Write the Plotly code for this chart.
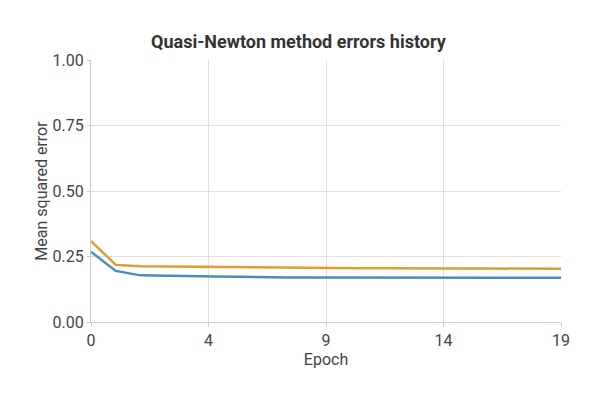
import plotly.graph_objects as go

epochs = list(range(20))
err_a = [0.309, 0.218, 0.213, 0.212, 0.211, 0.209, 0.209, 0.208, 0.208, 0.206,
         0.205, 0.205, 0.205, 0.204, 0.204, 0.204, 0.204, 0.204, 0.203, 0.203]
err_b = [0.268, 0.195, 0.178, 0.176, 0.174, 0.174, 0.173, 0.171, 0.170, 0.170,
         0.170, 0.170, 0.169, 0.169, 0.169, 0.169, 0.169, 0.169, 0.169, 0.169]
x_tickvals = [0, 4.75, 9.5, 14.25, 19]
x_ticktext = ["0", "4", "9", "14", "19"]
y_tickvals = [0, 0.25, 0.5, 0.75, 1.0]

fig = go.Figure()
fig.add_trace(go.Scatter(x=epochs, y=err_a, mode="lines",
                         line=dict(color="#E39B30", width=2.5), showlegend=False))
fig.add_trace(go.Scatter(x=epochs, y=err_b, mode="lines",
                         line=dict(color="#4A8EB6", width=2.5), showlegend=False))

fig.update_layout(
    width=600, height=400,
    paper_bgcolor="white", plot_bgcolor="white",
    margin=dict(l=83, r=47, t=52, b=86, autoexpand=False),
    title=dict(text="<b>Quasi-Newton method errors history</b>",
               x=0.484, xanchor="center", y=1 - 34 / 400, yanchor="middle",
               font=dict(family="Roboto", size=18, color="#333333")),
    font=dict(family="Roboto", size=16, color="#444444"),
)
fig.update_xaxes(range=[0, 19], tickvals=x_tickvals, ticktext=x_ticktext,
                 showgrid=True, gridcolor="#e0e0e0", zeroline=False,
                 showline=True, linecolor="#cccccc", automargin=False,
                 ticks="outside", ticklen=4, tickcolor="#cccccc",
                 title=dict(text="Epoch", font=dict(size=16, color="#444444"), standoff=4),
                 tickfont=dict(size=16, color="#444444"))
fig.update_yaxes(range=[0, 1], tickvals=y_tickvals, tickformat=".2f",
                 showgrid=True, gridcolor="#e0e0e0", zeroline=False,
                 showline=True, linecolor="#cccccc", automargin=False,
                 ticks="outside", ticklen=3, tickcolor="#cccccc",
                 title=dict(text="Mean squared error", font=dict(size=16, color="#444444"), standoff=0),
                 tickfont=dict(size=16, color="#444444"))

fig.write_html("out.html")
